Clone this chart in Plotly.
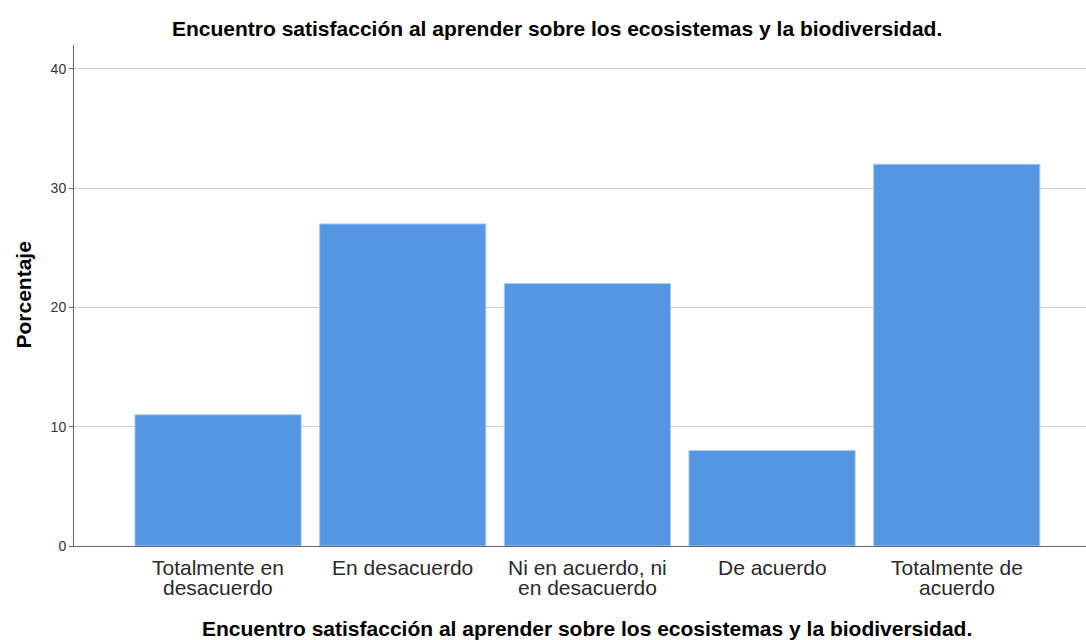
import plotly.graph_objects as go

categorias = [["Totalmente en", "desacuerdo"], ["En desacuerdo"], ["Ni en acuerdo, ni", "en desacuerdo"],
              ["De acuerdo"], ["Totalmente de", "acuerdo"]]
porcentaje = [11, 27, 22, 8, 32]
y_ticks = [0, 10, 20, 30, 40]

titulo = "Encuentro satisfacción al aprender sobre los ecosistemas y la biodiversidad."
eje_y = "Porcentaje"

FONT = "Liberation Sans, Arial, sans-serif"

fig = go.Figure()
fig.add_trace(go.Bar(
    x=list(range(len(categorias))),
    y=porcentaje,
    width=0.9,
    marker=dict(color="#5596e3", line=dict(color="#a9c9f0", width=1)),
    hoverinfo="y",
))

# category labels, one annotation per line to keep the tight line spacing
for i, lineas in enumerate(categorias):
    for j, linea in enumerate(lineas):
        fig.add_annotation(x=i, xref="x", y=0, yref="paper", yanchor="middle",
                           yshift=-21 - 20 * j, text=linea, showarrow=False,
                           font=dict(size=21, color="#2a2a2a"))

# titles (paper x is relative to plot area: 74..1086 px)
fig.add_annotation(x=(557 - 74) / 1012, xref="paper", y=1, yref="paper", yanchor="middle", yshift=17,
                   xanchor="center", text="<b>" + titulo + "</b>", showarrow=False,
                   font=dict(size=21, color="black"))
fig.add_annotation(x=(587 - 74) / 1012, xref="paper", y=0, yref="paper", yanchor="middle", yshift=-82,
                   xanchor="center", text="<b>" + titulo + "</b>", showarrow=False,
                   font=dict(size=21, color="black"))
fig.add_annotation(x=0, xref="paper", xshift=-51, xanchor="center", y=0.5, yref="paper",
                   yanchor="middle", textangle=-90,
                   text="<b>" + eje_y + "</b>", showarrow=False,
                   font=dict(size=21, color="black"))

fig.update_layout(
    width=1086, height=640,
    margin=dict(l=74, r=0, t=45, b=94),
    paper_bgcolor="white", plot_bgcolor="white",
    font=dict(family=FONT, color="#222"),
    showlegend=False,
)
fig.update_xaxes(
    range=[-0.78, 4.70],
    showticklabels=False,
    showline=True, linecolor="#666", linewidth=1, showgrid=False, ticks="",
)
fig.update_yaxes(
    range=[0, 42.0],
    tickvals=y_ticks,
    tickfont=dict(size=14, color="#333"),
    showline=True, linecolor="#666", linewidth=1,
    showgrid=True, gridcolor="#d3d3d3", gridwidth=1,
    ticks="outside", ticklen=4, tickcolor="#666",
    zeroline=False,
)

fig.write_html("out.html", config={"displayModeBar": False},
               post_script="document.body.style.margin='0px';")
